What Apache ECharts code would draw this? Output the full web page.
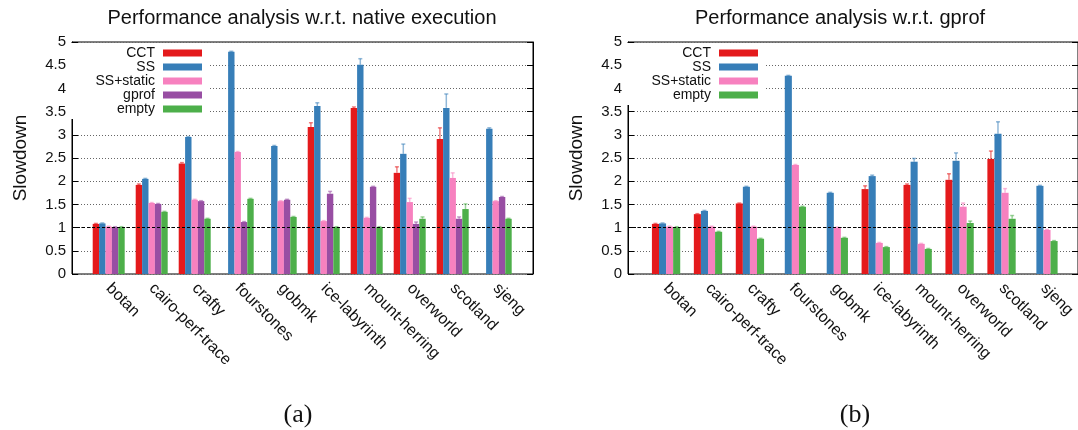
<!DOCTYPE html>
<html>
<head>
<meta charset="utf-8">
<script src="https://cdn.jsdelivr.net/npm/echarts@6/dist/echarts.min.js"></script>
<style>
  html, body { margin: 0; padding: 0; background: #fff; }
  #chart { width: 1078px; height: 430px; }
</style>
</head>
<body>
<div id="chart"></div>
<script>
// ---------- data ----------
const categories = ['botan', 'cairo-perf-trace', 'crafty', 'fourstones', 'gobmk',
  'ice-labyrinth', 'mount-herring', 'overworld', 'scotland', 'sjeng'];

const leftTitle = 'Performance analysis w.r.t. native execution';
const rightTitle = 'Performance analysis w.r.t. gprof';
const yAxisName = 'Slowdown';
const leftCaption = '(a)';
const rightCaption = '(b)';

const leftNames = ['CCT', 'SS', 'SS+static', 'gprof', 'empty'];
const rightNames = ['CCT', 'SS', 'SS+static', 'empty'];

// (a) slowdown w.r.t. native execution
const nativeCCT      = [1.08, 1.92, 2.38, null, null, 3.17, 3.58, 2.18, 2.91, null];
const nativeSS       = [1.09, 2.05, 2.95, 4.79, 2.76, 3.62, 4.51, 2.59, 3.58, 3.13];
const nativeSSstatic = [1.02, 1.53, 1.60, 2.63, 1.57, 1.14, 1.21, 1.55, 2.07, 1.57];
const nativeGprof    = [1.01, 1.51, 1.57, 1.12, 1.60, 1.73, 1.88, 1.08, 1.19, 1.66];
const nativeEmpty    = [1.01, 1.34, 1.19, 1.62, 1.23, 1.01, 1.01, 1.19, 1.40, 1.19];
// error-bar extents (above the bar)
const nativeCCTErr      = [0.01, 0.02, 0.02, null, null, 0.09, 0.02, 0.13, 0.24, null];
const nativeSSErr       = [0.01, 0.01, 0.01, 0.01, 0.01, 0.07, 0.13, 0.21, 0.30, 0.02];
const nativeSSstaticErr = [0.01, 0.01, 0.01, 0.01, 0.01, 0.01, 0.01, 0.08, 0.11, 0.01];
const nativeGprofErr    = [0.01, 0.01, 0.01, 0.01, 0.01, 0.05, 0.01, 0.04, 0.04, 0.01];
const nativeEmptyErr    = [0.01, 0.01, 0.01, 0.01, 0.01, 0.01, 0.01, 0.04, 0.11, 0.01];

// (b) slowdown w.r.t. gprof
const gprofCCT      = [1.08, 1.29, 1.52, null, null, 1.83, 1.92, 2.03, 2.48, null];
const gprofSS       = [1.09, 1.36, 1.88, 4.27, 1.75, 2.11, 2.42, 2.44, 3.02, 1.90];
const gprofSSstatic = [1.02, 1.02, 1.02, 2.35, 1.00, 0.67, 0.65, 1.45, 1.75, 0.95];
const gprofEmpty    = [1.01, 0.91, 0.76, 1.45, 0.78, 0.58, 0.54, 1.10, 1.19, 0.71];
const gprofCCTErr      = [0.01, 0.01, 0.01, null, null, 0.07, 0.02, 0.13, 0.17, null];
const gprofSSErr       = [0.01, 0.01, 0.01, 0.01, 0.01, 0.02, 0.07, 0.17, 0.26, 0.01];
const gprofSSstaticErr = [0.01, 0.01, 0.01, 0.01, 0.01, 0.01, 0.01, 0.08, 0.09, 0.01];
const gprofEmptyErr    = [0.01, 0.01, 0.01, 0.01, 0.01, 0.01, 0.01, 0.04, 0.07, 0.01];

// ---------- style ----------
const colorOf = { 'CCT': '#e41a1c', 'SS': '#377eb8', 'SS+static': '#f781bf', 'gprof': '#984ea3', 'empty': '#4daf4a' };
const FONT = 'Liberation Sans, Arial, Helvetica, sans-serif';
const TXT = '#111';

const leftValues = [nativeCCT, nativeSS, nativeSSstatic, nativeGprof, nativeEmpty];
const leftErrs = [nativeCCTErr, nativeSSErr, nativeSSstaticErr, nativeGprofErr, nativeEmptyErr];
const rightValues = [gprofCCT, gprofSS, gprofSSstatic, gprofEmpty];
const rightErrs = [gprofCCTErr, gprofSSErr, gprofSSstaticErr, gprofEmptyErr];

const GAP_L = 0.256, GAP_R = 0.325;

function errRenderer(idx, n, gap, color) {
  return function (params, api) {
    const x = api.value(0), v = api.value(1), e = api.value(2);
    if (v == null || isNaN(v) || e == null || isNaN(e)) return null;
    const band = api.size([1, 0])[0];
    const groupW = band * (1 - gap);
    const bw = groupW / n;
    const base = api.coord([x, v]);
    const top = api.coord([x, v + e]);
    const cx = base[0] - groupW / 2 + bw * (idx + 0.5);
    const st = { stroke: color, lineWidth: 1.5, opacity: 0.55 };
    return {
      type: 'group',
      children: [
        { type: 'line', shape: { x1: cx, y1: base[1], x2: cx, y2: top[1] }, style: st },
        { type: 'line', shape: { x1: cx - 2, y1: top[1], x2: cx + 2, y2: top[1] }, style: st }
      ]
    };
  };
}

function frameY(gridIndex, withName) {
  return [{
    type: 'value', gridIndex: gridIndex, min: 0, max: 5, interval: 0.5,
    name: withName ? yAxisName : '', nameLocation: 'middle', nameGap: 42, nameRotate: 90,
    nameTextStyle: { fontFamily: FONT, fontSize: 19, color: TXT },
    axisLine: { show: true, lineStyle: { color: '#000', width: 1 } },
    axisTick: { show: true, inside: true, length: 6, lineStyle: { color: '#000' } },
    axisLabel: { fontFamily: FONT, fontSize: 15, color: TXT, margin: 6 },
    splitLine: { show: true, lineStyle: { color: '#666', width: 1, type: [1, 2] } }
  }, {
    type: 'value', gridIndex: gridIndex, min: 0, max: 5, interval: 0.5, position: 'right',
    axisLine: { show: true, lineStyle: { color: '#000', width: 1 } },
    axisTick: { show: true, inside: true, length: 6, lineStyle: { color: '#000' } },
    axisLabel: { show: false }, splitLine: { show: false }
  }];
}

const grids = [
  { left: 72, right: 545, top: 42, bottom: 156, show: true, borderColor: '#000', borderWidth: 1, backgroundColor: '#fff' },
  { left: 87.2, right: 560.8, top: 42, bottom: 156 },
  { left: 628, right: -8, top: 42, bottom: 156, show: true, borderColor: '#000', borderWidth: 1, backgroundColor: '#fff' },
  { left: 645.1, right: 7.9, top: 42, bottom: 156 }
];

const catAxis = (gi) => ({
  type: 'category', gridIndex: gi, data: categories,
  axisLine: { show: false }, axisTick: { show: false },
  axisLabel: { interval: 0, rotate: -45, margin: 12, fontFamily: FONT, fontSize: 16, color: TXT }
});

const xAxes = [
  { type: 'value', gridIndex: 0, min: 0, max: 1, show: false },
  catAxis(1),
  { type: 'value', gridIndex: 2, min: 0, max: 1, show: false },
  catAxis(3)
];

const yAxes = [
  ...frameY(0, true),
  { type: 'value', gridIndex: 1, min: 0, max: 5, show: false },
  ...frameY(2, true),
  { type: 'value', gridIndex: 3, min: 0, max: 5, show: false }
];

const series = [];
function addChart(names, values, errs, xi, yi, gap, frameX, frameY0) {
  names.forEach((nm, i) => {
    series.push({
      type: 'bar', name: nm, xAxisIndex: xi, yAxisIndex: yi, data: values[i],
      itemStyle: { color: colorOf[nm] }, barGap: '0%', barCategoryGap: (gap * 100) + '%',
      z: 2, emphasis: { disabled: true }
    });
  });
  names.forEach((nm, i) => {
    series.push({
      type: 'custom', name: 'err-' + xi + '-' + nm, xAxisIndex: xi, yAxisIndex: yi,
      data: categories.map((c, k) => [k, values[i][k], errs[i][k]]).filter(d => d[1] != null),
      encode: { x: 0, y: 1 }, silent: true, z: 3,
      renderItem: errRenderer(i, names.length, gap, colorOf[nm])
    });
  });
  series.push({
    type: 'line', name: 'ref-' + xi, xAxisIndex: frameX, yAxisIndex: frameY0, data: [], z: 4,
    markLine: {
      silent: true, symbol: 'none', label: { show: false },
      lineStyle: { color: '#000', width: 1, type: [3, 2] },
      data: [{ yAxis: 1 }]
    }
  });
}
addChart(leftNames, leftValues, leftErrs, 1, 2, GAP_L, 0, 0);
addChart(rightNames, rightValues, rightErrs, 3, 5, GAP_R, 2, 3);

const legendBase = {
  orient: 'vertical', align: 'right', top: 43, itemWidth: 39, itemHeight: 7, itemGap: 0,
  icon: 'rect', backgroundColor: '#fff', selectedMode: false,
  textStyle: { fontFamily: FONT, fontSize: 14, color: TXT, lineHeight: 14, padding: [0, 3, 0, 0] }
};

const option = {
  animation: false,
  backgroundColor: '#fff',
  title: [
    { text: leftTitle, left: 302, top: 8, textAlign: 'center', padding: 0,
      textStyle: { fontFamily: FONT, fontSize: 20, fontWeight: 'normal', color: TXT } },
    { text: rightTitle, left: 840, top: 8, textAlign: 'center', padding: 0,
      textStyle: { fontFamily: FONT, fontSize: 20, fontWeight: 'normal', color: TXT } },
    { text: leftCaption, left: 298, top: 402, textAlign: 'center', padding: 0,
      textStyle: { fontFamily: 'Liberation Serif, Times New Roman, serif', fontSize: 26, fontWeight: 'normal', color: TXT } },
    { text: rightCaption, left: 855, top: 402, textAlign: 'center', padding: 0,
      textStyle: { fontFamily: 'Liberation Serif, Times New Roman, serif', fontSize: 26, fontWeight: 'normal', color: TXT } }
  ],
  legend: [
    Object.assign({}, legendBase, { right: 870, padding: [3, 6, 3, 25], data: leftNames }),
    Object.assign({}, legendBase, { right: 314, padding: [3, 6, 3, 25], data: rightNames })
  ],
  grid: grids,
  xAxis: xAxes,
  yAxis: yAxes,
  series: series
};

const chart = echarts.init(document.getElementById('chart'), null, { renderer: 'canvas' });
chart.setOption(option);
</script>
</body>
</html>
